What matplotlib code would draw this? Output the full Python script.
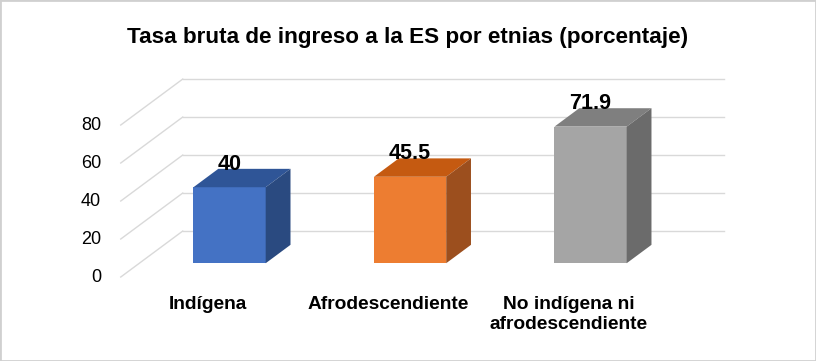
import matplotlib.pyplot as plt
from matplotlib.patches import Polygon, Rectangle

# data
categories = ["Indígena", "Afrodescendiente", "No indígena ni\nafrodescendiente"]
values = [40, 45.5, 71.9]
value_labels = ["40", "45.5", "71.9"]
y_ticks = [0, 20, 40, 60, 80]

front_colors = ["#4472c4", "#ed7d31", "#a5a5a5"]
top_colors = ["#2f5597", "#c55a11", "#7f7f7f"]
side_colors = ["#2a4a80", "#9c4f1e", "#6b6b6b"]

FONT = ["Liberation Sans Narrow", "Liberation Sans", "DejaVu Sans"]

# oblique "3d" offsets, per unit of depth
DX = 0.3435   # category units
DY = 24.2     # value units
D0, D1 = 0.3, 0.7
W = 0.4


def main():
    fig = plt.figure(figsize=(8.16, 3.61), dpi=100)
    ax = fig.add_axes([0, 0, 1, 1])
    ax.set_xlim(-1.169, 3.352)
    ax.set_ylim(-44.2, 145.8)
    ax.axis("off")

    # walls / gridlines
    for t in y_ticks:
        ax.plot([-0.5, -0.5 + DX], [t, t + DY], color="#d9d9d9", lw=1, zorder=1)
        ax.plot([-0.5 + DX, 2.5 + DX], [t + DY, t + DY], color="#d9d9d9", lw=1, zorder=1)
        ax.text(-0.61, t, str(t), ha="right", va="center", fontsize=13,
                family=FONT, color="#000000")

    dd = D1 - D0
    for i, v in enumerate(values):
        xl = i + D0 * DX - W / 2
        xr = xl + W
        b = D0 * DY
        ax.bar(xl + W / 2, v, width=W, bottom=b, color=front_colors[i], zorder=3)
        top = [(xl, b + v), (xr, b + v), (xr + dd * DX, b + v + dd * DY),
               (xl + dd * DX, b + v + dd * DY)]
        ax.add_patch(Polygon(top, closed=True, facecolor=top_colors[i],
                             edgecolor="none", zorder=3))
        side = [(xr, b), (xr, b + v), (xr + dd * DX, b + v + dd * DY),
                (xr + dd * DX, b + dd * DY)]
        ax.add_patch(Polygon(side, closed=True, facecolor=side_colors[i],
                             edgecolor="none", zorder=3))
        ax.text(xl + W / 2, b + v + 12, value_labels[i], ha="center", va="center",
                fontsize=15.5, fontweight="bold", family=FONT, zorder=5)
        ax.text(i - 0.02, -10, categories[i], ha="center", va="top", fontsize=13.8,
                fontweight="bold", family=FONT, linespacing=1.2)

    fig.text(0.5, 1 - 38 / 361, "Tasa bruta de ingreso a la ES por etnias (porcentaje)",
             ha="center", va="center", fontsize=16.2, fontweight="bold", family=FONT)

    fig.add_artist(Rectangle((0, 0), 1, 1, transform=fig.transFigure, fill=False,
                             edgecolor="#d0d0d0", lw=2))
    fig.savefig("out.png", dpi=100)
    plt.close(fig)


main()
